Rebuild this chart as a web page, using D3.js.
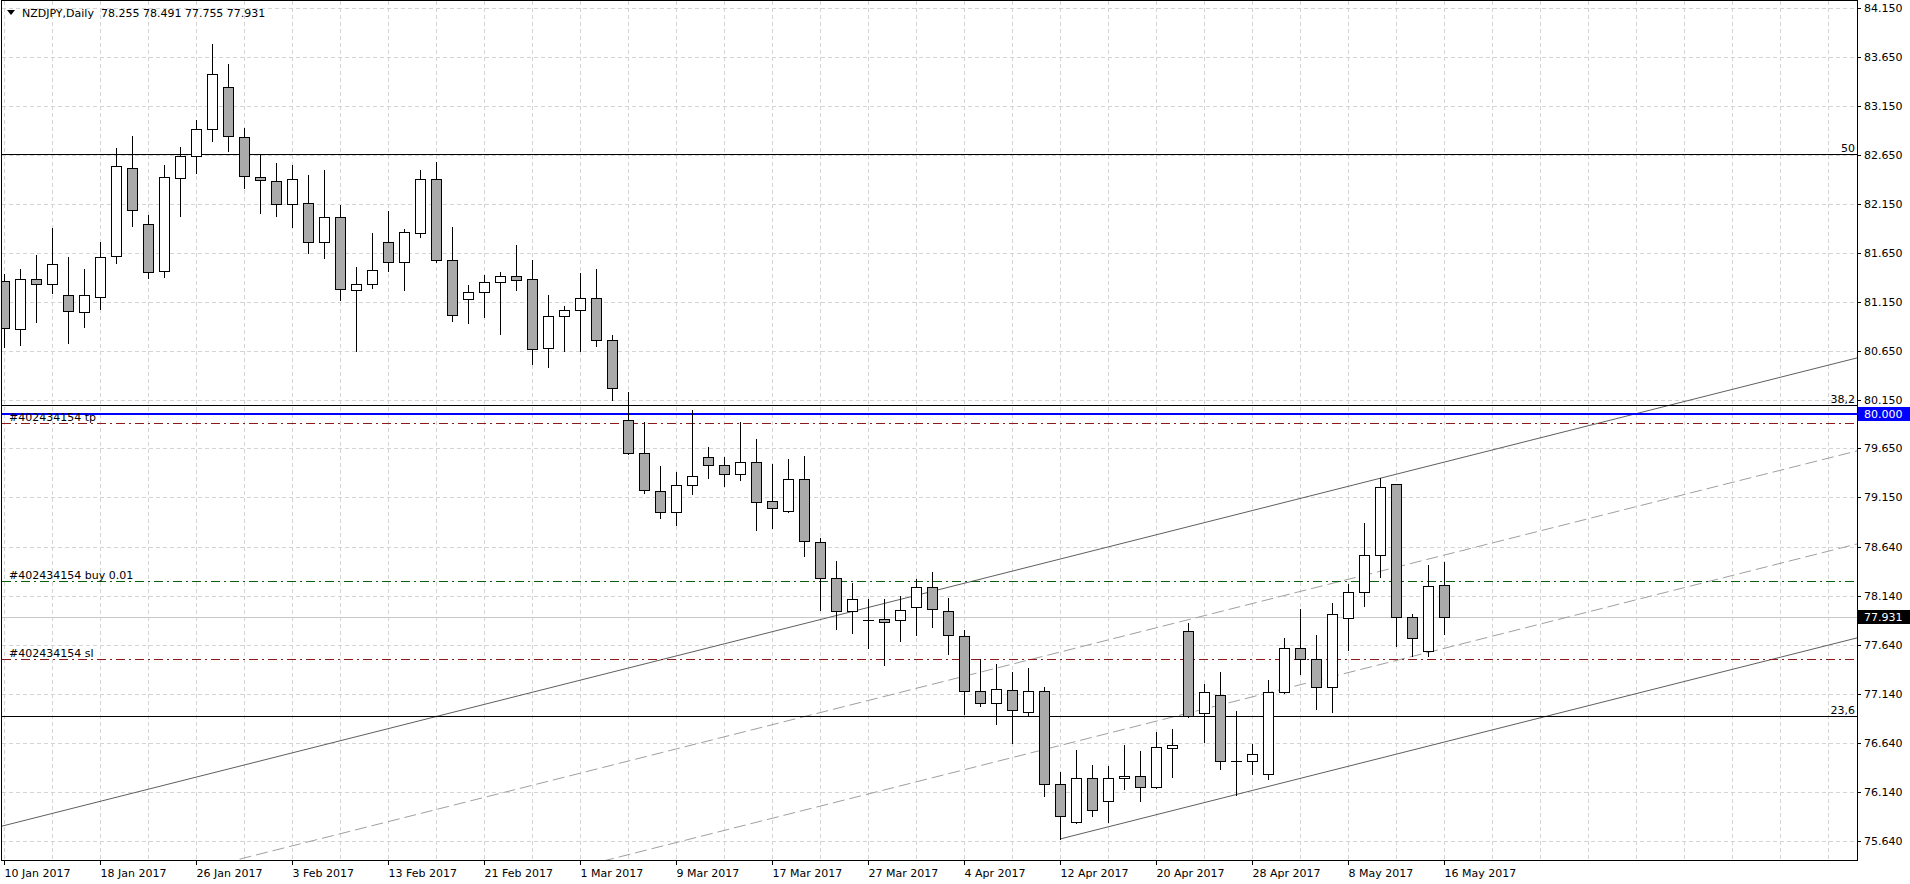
<!DOCTYPE html>
<html>
<head>
<meta charset="utf-8">
<script src="https://cdn.jsdelivr.net/npm/d3@7"></script>
<style>
  html, body { margin: 0; padding: 0; background: #fff; }
  svg { display: block; font-family: "DejaVu Sans", sans-serif; font-size: 11px; }
</style>
</head>
<body>
<div id="chart"></div>
<script>
const symbol = 'NZDJPY,Daily';

// daily candles, 10 Jan 2017 .. 16 May 2017
const opens = [81.356, 80.869, 81.380, 81.329, 81.213, 81.043, 81.196, 81.615, 82.515, 81.942,
  81.462, 82.413, 82.637, 82.913, 83.343, 82.832, 82.423, 82.382, 82.147, 82.157,
  81.759, 82.014, 81.268, 81.329, 81.759, 81.554, 81.851, 82.402, 81.575, 81.176,
  81.248, 81.350, 81.411, 81.380, 80.675, 81.002, 81.064, 81.186, 80.757, 79.939,
  79.602, 79.214, 78.999, 79.275, 79.561, 79.480, 79.388, 79.510, 79.112, 79.009,
  79.336, 78.693, 78.325, 77.987, 77.897, 77.906, 77.895, 78.028, 78.233, 77.987,
  77.732, 77.170, 77.047, 77.180, 76.955, 77.170, 76.219, 75.831, 76.281, 76.046,
  76.281, 76.301, 76.189, 76.587, 77.783, 76.945, 77.129, 76.455, 76.454, 76.322,
  77.160, 77.615, 77.497, 77.211, 77.916, 78.182, 78.560, 79.285, 77.926, 77.579,
  78.255];
const highs = [81.435, 81.483, 81.626, 81.902, 81.605, 81.486, 81.759, 82.719, 82.842, 82.034,
  82.545, 82.732, 83.008, 83.785, 83.581, 82.924, 82.658, 82.566, 82.545, 82.443,
  82.494, 82.140, 81.506, 81.854, 82.078, 81.894, 82.497, 82.579, 81.915, 81.322,
  81.424, 81.455, 81.731, 81.578, 81.220, 81.104, 81.445, 81.486, 80.808, 80.227,
  79.919, 79.472, 79.411, 80.042, 79.663, 79.561, 79.919, 79.745, 79.490, 79.541,
  79.571, 78.733, 78.498, 78.274, 78.110, 78.110, 78.141, 78.314, 78.386, 78.120,
  77.793, 77.500, 77.446, 77.367, 77.408, 77.211, 76.345, 76.570, 76.414, 76.403,
  76.621, 76.560, 76.754, 76.784, 77.868, 77.241, 77.364, 76.965, 76.631, 77.282,
  77.711, 78.011, 77.745, 78.075, 78.266, 78.890, 79.347, 79.290, 77.957, 78.458,
  78.491];
const lows = [80.689, 80.709, 80.947, 81.237, 80.729, 80.886, 81.080, 81.550, 81.925, 81.387,
  81.404, 82.020, 82.460, 82.787, 82.684, 82.306, 82.051, 82.020, 81.908, 81.642,
  81.591, 81.162, 80.641, 81.288, 81.468, 81.264, 81.806, 81.560, 80.957, 80.937,
  80.998, 80.824, 81.274, 80.508, 80.487, 80.641, 80.641, 80.696, 80.142, 79.590,
  79.199, 78.944, 78.872, 79.189, 79.353, 79.271, 79.332, 78.821, 78.842, 78.999,
  78.556, 78.004, 77.810, 77.769, 77.615, 77.442, 77.687, 77.748, 77.830, 77.554,
  76.941, 77.023, 76.839, 76.644, 76.914, 76.103, 75.660, 75.825, 75.898, 75.837,
  76.174, 76.052, 76.178, 76.297, 76.910, 76.652, 76.379, 76.113, 76.328, 76.277,
  77.150, 77.347, 76.992, 76.961, 77.595, 78.045, 78.335, 77.636, 77.527, 77.527,
  77.755];
const closes = [80.880, 81.380, 81.329, 81.534, 81.056, 81.213, 81.611, 82.535, 82.086, 81.452,
  82.423, 82.637, 82.913, 83.475, 82.842, 82.433, 82.392, 82.147, 82.402, 81.759,
  82.014, 81.278, 81.329, 81.472, 81.554, 81.861, 82.402, 81.575, 81.013, 81.248,
  81.350, 81.411, 81.370, 80.665, 81.002, 81.064, 81.186, 80.757, 80.266, 79.602,
  79.224, 78.999, 79.275, 79.367, 79.480, 79.388, 79.510, 79.101, 79.040, 79.336,
  78.703, 78.325, 77.987, 78.110, 77.895, 77.875, 77.998, 78.233, 78.008, 77.742,
  77.170, 77.047, 77.190, 76.976, 77.170, 76.219, 75.892, 76.281, 75.954, 76.281,
  76.301, 76.189, 76.597, 76.618, 76.920, 77.160, 76.454, 76.453, 76.526, 77.160,
  77.615, 77.497, 77.211, 77.957, 78.182, 78.560, 79.255, 77.926, 77.711, 78.243,
  77.931];

const dateLabels = ['10 Jan 2017', '18 Jan 2017', '26 Jan 2017', '3 Feb 2017', '13 Feb 2017',
  '21 Feb 2017', '1 Mar 2017', '9 Mar 2017', '17 Mar 2017', '27 Mar 2017', '4 Apr 2017',
  '12 Apr 2017', '20 Apr 2017', '28 Apr 2017', '8 May 2017', '16 May 2017'];
const dateLabelBars = [0, 6, 12, 18, 24, 30, 36, 42, 48, 54, 60, 66, 72, 78, 84, 90];
const priceTicks = [84.150, 83.650, 83.150, 82.650, 82.150, 81.650, 81.150, 80.650, 80.150,
  79.650, 79.150, 78.640, 78.140, 77.640, 77.140, 76.640, 76.140, 75.640];

// fibo levels, trade levels, alert
const fiboLevels = [82.658, 80.096, 76.921];
const fiboNames = ['50', '38,2', '23,6'];
const orderLevels = [79.909, 78.294, 77.497];
const orderNames = ['#402434154 tp', '#402434154 buy 0.01', '#402434154 sl'];
const alertLevel = 80.000;
const bidPrice = 77.931;

// channel: top line through two points, other lines shifted down
const channelBars = [0, 90];
const channelTop = [75.798, 79.514];
const channelShifts = [0, 0.954, 1.908, 2.862];
const channelFrom = [-10, -10, -10, 66];

const W = 1910, H = 884;
const plotLeft = 2, plotRight = 1857, plotTop = 1, plotBottom = 860;

const x = d3.scaleLinear().domain([0, 90]).rangeRound([4, 1444]);
const y = d3.scaleLinear().domain([75.64, 84.15]).rangeRound([841, 8]);
const py = v => Math.round(y(v)) + 0.5;

const svg = d3.select('#chart').append('svg')
  .attr('width', W)
  .attr('height', H);

svg.append('defs').append('clipPath').attr('id', 'plot')
  .append('rect')
  .attr('x', plotLeft).attr('y', plotTop)
  .attr('width', plotRight - plotLeft).attr('height', plotBottom - plotTop);

const plot = svg.append('g').attr('clip-path', 'url(#plot)');

//Grid
const gridBars = d3.range(0, 120, 3).filter(b => x(b) < plotRight);
plot.append('g').selectAll('line')
  .data(gridBars)
  .enter()
  .append('line')
  .attr('x1', d => x(d) + 0.5).attr('x2', d => x(d) + 0.5)
  .attr('y1', plotTop).attr('y2', plotBottom)
  .attr('stroke', '#d4d4d4')
  .attr('stroke-dasharray', '4,3');
plot.append('g').selectAll('line')
  .data(priceTicks)
  .enter()
  .append('line')
  .attr('x1', plotLeft).attr('x2', plotRight)
  .attr('y1', d => py(d)).attr('y2', d => py(d))
  .attr('stroke', '#d4d4d4')
  .attr('stroke-dasharray', '4,3');

//Bid line
plot.append('line')
  .attr('x1', plotLeft).attr('x2', plotRight)
  .attr('y1', py(bidPrice)).attr('y2', py(bidPrice))
  .attr('stroke', '#c8c8c8');

//Channel
const slope = (channelTop[1] - channelTop[0]) / (channelBars[1] - channelBars[0]);
const chanPrice = (b, s) => channelTop[0] + (b - channelBars[0]) * slope - s;
const chanLine = d3.line().x(d => x(d[0])).y(d => y(d[1]));
channelShifts.forEach((s, k) => {
  const solid = k === 0 || k === channelShifts.length - 1;
  plot.append('path')
    .attr('d', chanLine([[channelFrom[k], chanPrice(channelFrom[k], s)], [120, chanPrice(120, s)]]))
    .attr('fill', 'none')
    .attr('stroke', solid ? '#5f5f5f' : '#a0a0a0')
    .attr('stroke-dasharray', solid ? null : '12,5');
});

//Fibo levels
fiboLevels.forEach((lv, k) => {
  plot.append('line')
    .attr('x1', plotLeft).attr('x2', plotRight)
    .attr('y1', py(lv)).attr('y2', py(lv))
    .attr('stroke', '#000');
  svg.append('text')
    .attr('x', plotRight - 2).attr('y', py(lv) - 2.5)
    .attr('text-anchor', 'end')
    .attr('fill', '#000')
    .text(fiboNames[k]);
});

//Order levels
const orderColors = ['#8b1a1a', '#0b5e0b', '#8b1a1a'];
orderLevels.forEach((lv, k) => {
  plot.append('line')
    .attr('x1', plotLeft).attr('x2', plotRight)
    .attr('y1', py(lv)).attr('y2', py(lv))
    .attr('stroke', orderColors[k])
    .attr('stroke-dasharray', '9,4,2,4');
});

//Alert line
plot.append('line')
  .attr('x1', plotLeft).attr('x2', plotRight)
  .attr('y1', Math.round(y(alertLevel))).attr('y2', Math.round(y(alertLevel)))
  .attr('stroke', '#0000ff')
  .attr('stroke-width', 2);

orderLevels.forEach((lv, k) => {
  svg.append('text')
    .attr('x', 9).attr('y', py(lv) - 2.5)
    .attr('fill', '#000')
    .text(orderNames[k]);
});

//Candles
const bars = opens.map((o, i) => ({i, o, h: highs[i], l: lows[i], c: closes[i]}));
const candle = plot.append('g').selectAll('g')
  .data(bars)
  .enter()
  .append('g');
candle.append('line')
  .attr('x1', d => x(d.i) + 0.5).attr('x2', d => x(d.i) + 0.5)
  .attr('y1', d => y(d.h)).attr('y2', d => y(d.l) + 1)
  .attr('stroke', '#000');
candle.filter(d => y(d.o) !== y(d.c))
  .append('rect')
  .attr('x', d => x(d.i) - 4.5)
  .attr('y', d => Math.min(y(d.o), y(d.c)) + 0.5)
  .attr('width', 10)
  .attr('height', d => Math.abs(y(d.o) - y(d.c)))
  .attr('fill', d => d.c > d.o ? '#fff' : '#aaa')
  .attr('stroke', '#000');
candle.filter(d => y(d.o) === y(d.c))
  .append('line')
  .attr('x1', d => x(d.i) - 5).attr('x2', d => x(d.i) + 6)
  .attr('y1', d => y(d.o) + 0.5).attr('y2', d => y(d.o) + 0.5)
  .attr('stroke', '#000');

//Border
svg.append('rect')
  .attr('x', plotLeft - 0.5).attr('y', plotTop - 0.5)
  .attr('width', plotRight - plotLeft + 1).attr('height', plotBottom - plotTop + 1)
  .attr('fill', 'none')
  .attr('stroke', '#000');

//Price axis
const yAxis = d3.axisRight(y)
  .tickValues(priceTicks)
  .tickFormat(d3.format('.3f'))
  .tickSize(4)
  .tickPadding(3);
const ya = svg.append('g')
  .attr('transform', `translate(${plotRight}, 0)`)
  .call(yAxis);
ya.select('.domain').remove();
ya.selectAll('text').attr('fill', '#000').style('font-size', '11px').style('font-family', '"DejaVu Sans", sans-serif');
ya.selectAll('line').attr('stroke', '#000');

//Date axis
const xAxis = d3.axisBottom(x)
  .tickValues(dateLabelBars)
  .tickFormat((d, k) => dateLabels[k])
  .tickSize(5)
  .tickPadding(4);
const xa = svg.append('g')
  .attr('transform', `translate(0, ${plotBottom})`)
  .call(xAxis);
xa.select('.domain').remove();
xa.selectAll('text').attr('fill', '#000').attr('text-anchor', 'start')
  .style('font-size', '11px').style('font-family', '"DejaVu Sans", sans-serif');
xa.selectAll('line').attr('stroke', '#000');

//Price labels
const tags = [
  {v: alertLevel, fill: '#0000ff'},
  {v: bidPrice, fill: '#000'}
];
tags.forEach(t => {
  const ty = Math.round(y(t.v));
  svg.append('rect')
    .attr('x', plotRight + 1).attr('y', ty - 7)
    .attr('width', W - plotRight - 1).attr('height', 14)
    .attr('fill', t.fill);
  svg.append('text')
    .attr('x', plotRight + 7).attr('y', ty)
    .attr('dy', '0.35em')
    .attr('fill', '#fff')
    .text(d3.format('.3f')(t.v));
});

//Title
const last = bars[bars.length - 1];
const f3 = d3.format('.3f');
svg.append('path')
  .attr('d', 'M7,10 L15,10 L11,15 Z')
  .attr('fill', '#000');
svg.append('text')
  .attr('x', 22).attr('y', 17)
  .attr('fill', '#000')
  .style('white-space', 'pre')
  .text(`${symbol}  ${f3(last.o)} ${f3(last.h)} ${f3(last.l)} ${f3(last.c)}`);
</script>
</body>
</html>
